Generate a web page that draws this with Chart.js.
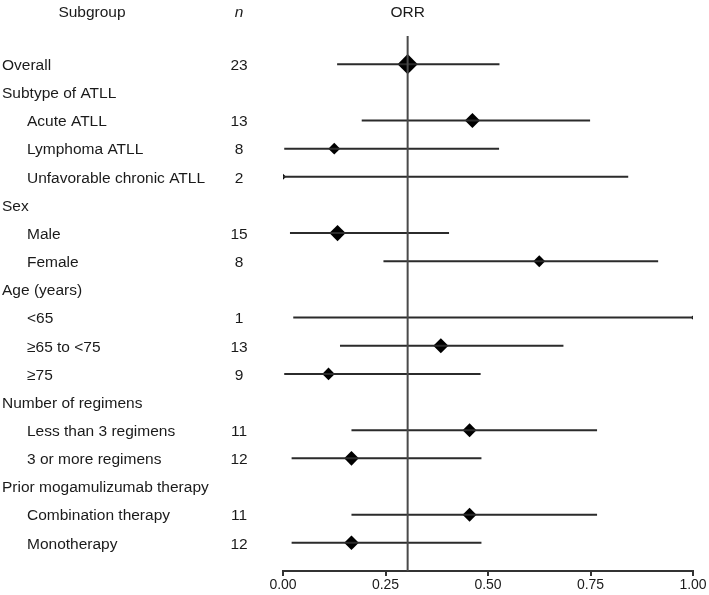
<!DOCTYPE html>
<html>
<head>
    <title>ORR forest plot</title>
    <script src="https://cdn.jsdelivr.net/npm/chart.js"></script>
    <style>
        body { margin: 0; background: white; }
        #wrap { width: 709px; height: 595px; }
    </style>
</head>
<body>
    <div id="wrap"><canvas id="forestChart" width="709" height="595"></canvas></div>

    <script>
        // rows top to bottom; headers have no n / estimate
        const subgroups = ['Overall', 'Subtype of ATLL', 'Acute ATLL', 'Lymphoma ATLL', 'Unfavorable chronic ATLL',
            'Sex', 'Male', 'Female', 'Age (years)', '<65', '\u226565 to <75', '\u226575',
            'Number of regimens', 'Less than 3 regimens', '3 or more regimens',
            'Prior mogamulizumab therapy', 'Combination therapy', 'Monotherapy'];
        const level = [0, 0, 1, 1, 1, 0, 1, 1, 0, 1, 1, 1, 0, 1, 1, 0, 1, 1];
        const nValues = [23, null, 13, 8, 2, null, 15, 8, null, 1, 13, 9, null, 11, 12, null, 11, 12];
        const orr = [0.304, null, 0.462, 0.125, 0.0, null, 0.133, 0.625, null, 1.0, 0.385, 0.111, null, 0.455, 0.167, null, 0.455, 0.167];
        const lower = [0.132, null, 0.192, 0.003, 0.0, null, 0.017, 0.245, null, 0.025, 0.139, 0.003, null, 0.167, 0.021, null, 0.167, 0.021];
        const upper = [0.528, null, 0.749, 0.527, 0.842, null, 0.405, 0.915, null, 1.0, 0.684, 0.482, null, 0.766, 0.484, null, 0.766, 0.484];
        const xTicks = [0, 0.25, 0.5, 0.75, 1];

        const ciPoints = [];
        const estPoints = [];
        subgroups.forEach((s, i) => {
            if (orr[i] === null) return;
            ciPoints.push({ x: lower[i], y: i }, { x: upper[i], y: i }, { x: null, y: i });
            estPoints.push({ x: orr[i], y: i, n: nValues[i] });
        });
        const refLine = [{ x: orr[0], y: -1 }, { x: orr[0], y: subgroups.length }];

        const textColumns = {
            id: 'textColumns',
            afterDraw(chart) {
                const ctx = chart.ctx;
                const y = chart.scales.y;
                const x = chart.scales.x;
                const font = '15.5px "Liberation Sans", Arial, sans-serif';
                ctx.save();
                ctx.fillStyle = '#1a1a1a';
                ctx.textBaseline = 'middle';
                ctx.font = font;
                ctx.textAlign = 'center';
                ctx.fillText('Subgroup', 92, 13);
                ctx.fillText('ORR', x.getPixelForValue(orr[0]), 13);
                ctx.font = 'italic ' + font;
                ctx.fillText('n', 239, 13);
                ctx.font = font;
                subgroups.forEach((s, i) => {
                    const py = y.getPixelForValue(i) + 1.5;
                    ctx.textAlign = 'left';
                    ctx.fillText(s, level[i] ? 27 : 2, py);
                    if (nValues[i] !== null) {
                        ctx.textAlign = 'center';
                        ctx.fillText(String(nValues[i]), 239, py);
                    }
                });
                ctx.restore();
            }
        };

        new Chart(document.getElementById('forestChart'), {
            type: 'scatter',
            data: {
                datasets: [
                    {
                        data: refLine,
                        showLine: true,
                        borderColor: '#4a4a4a',
                        borderWidth: 2,
                        pointRadius: 0
                    },
                    {
                        data: ciPoints,
                        showLine: true,
                        spanGaps: false,
                        borderColor: '#2b2b2b',
                        borderWidth: 2,
                        pointRadius: 0
                    },
                    {
                        data: estPoints,
                        pointStyle: 'rectRot',
                        backgroundColor: '#000',
                        borderColor: '#000',
                        borderWidth: 0,
                        pointRadius: ctx => 2.1 * Math.sqrt(ctx.raw ? ctx.raw.n : 1)
                    }
                ]
            },
            options: {
                responsive: false,
                animation: false,
                layout: { padding: { left: 283, right: 16, top: 36, bottom: 0 } },
                plugins: {
                    legend: { display: false },
                    tooltip: { enabled: false }
                },
                scales: {
                    x: {
                        min: 0,
                        max: 1,
                        afterBuildTicks: axis => { axis.ticks = xTicks.map(v => ({ value: v })); },
                        afterFit: axis => { axis.height = 24; },
                        grid: { display: true, drawOnChartArea: false, drawTicks: true, tickLength: 5, color: '#333', lineWidth: 2 },
                        border: { display: true, color: '#333', width: 2 },
                        ticks: {
                            color: '#1a1a1a',
                            padding: 2,
                            maxRotation: 0,
                            font: { family: '"Liberation Sans", Arial, sans-serif', size: 14, lineHeight: 1 },
                            callback: v => Number(v).toFixed(2)
                        }
                    },
                    y: {
                        type: 'linear',
                        display: false,
                        reverse: true,
                        min: -1,
                        max: subgroups.length
                    }
                }
            },
            plugins: [textColumns]
        });
    </script>
</body>
</html>
